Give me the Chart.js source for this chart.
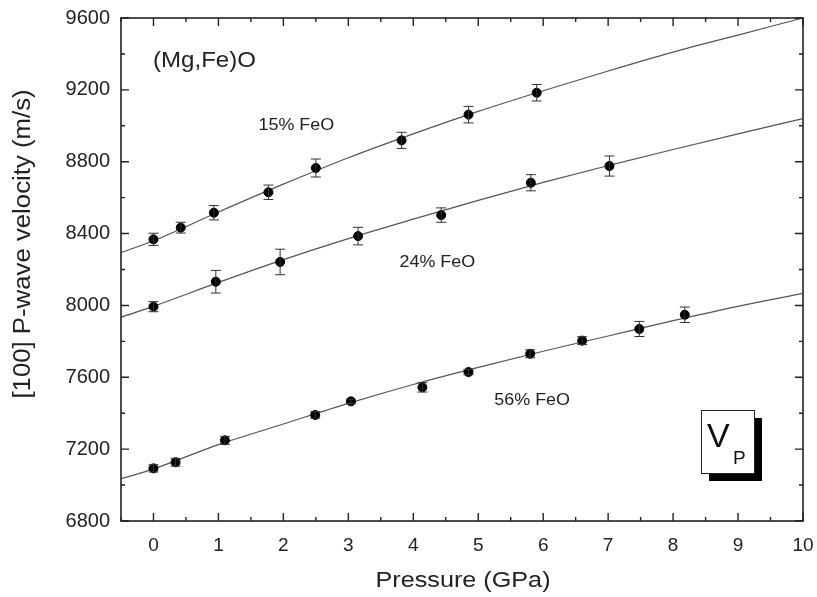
<!DOCTYPE html>
<html>
<head>
<meta charset="utf-8">
<script src="https://cdn.jsdelivr.net/npm/chart.js@4"></script>
<style>
  body { margin: 0; background: #fff; }
  canvas { display: block; }
</style>
</head>
<body>
<canvas id="vpChart" width="817" height="597"></canvas>
<script>
const p15 = [0, 0.42, 0.93, 1.77, 2.50, 3.82, 4.85, 5.90];
const vp15 = [8368, 8433, 8516, 8630, 8765, 8919, 9062, 9184];
const err15 = [34, 30, 40, 40, 50, 45, 46, 46];

const p24 = [0, 0.96, 1.95, 3.15, 4.43, 5.81, 7.02];
const vp24 = [7993, 8132, 8242, 8386, 8503, 8683, 8776];
const err24 = [28, 63, 71, 49, 40, 45, 56];

const p56 = [0, 0.34, 1.10, 2.49, 3.04, 4.14, 4.85, 5.80, 6.60, 7.48, 8.18];
const vp56 = [7093, 7127, 7249, 7390, 7466, 7544, 7629, 7731, 7804, 7869, 7948];
const err56 = [20, 22, 22, 18, 12, 26, 15, 22, 22, 42, 43];

// fitted curves, read at each GPa
const fitP = [-0.5, 0, 1, 2, 3, 4, 5, 6, 7, 8, 9, 10];
const fit15 = [8294, 8360, 8520, 8675, 8822, 8955, 9080, 9195, 9305, 9410, 9505, 9600];
const fit24 = [7934, 7995, 8128, 8255, 8372, 8480, 8585, 8685, 8778, 8868, 8955, 9040];
const fit56 = [7035, 7090, 7225, 7340, 7455, 7560, 7655, 7745, 7830, 7915, 7995, 8067];

const xTicks = [0, 1, 2, 3, 4, 5, 6, 7, 8, 9, 10];
const yTicks = [6800, 7200, 7600, 8000, 8400, 8800, 9200, 9600];

const toXY = (xs, ys) => xs.map((x, i) => ({x: x, y: ys[i]}));
const FONT = '"Liberation Sans", Arial, sans-serif';

function fitSet(ys) {
    return {type: 'line', data: toXY(fitP, ys), borderColor: '#555', borderWidth: 1.2,
            pointRadius: 0, cubicInterpolationMode: 'monotone', order: 2};
}
function pointSet(xs, ys, errs) {
    return {type: 'scatter', data: toXY(xs, ys), errs: errs, backgroundColor: '#000',
            borderColor: '#000', pointRadius: 4.5, order: 1};
}

// stretched text helper (the figure's lettering is a bit wide)
function wideText(ctx, txt, x, y, size, align) {
    ctx.save();
    ctx.font = size + 'px ' + FONT;
    ctx.textBaseline = 'middle';
    ctx.textAlign = align || 'center';
    ctx.translate(x, y);
    ctx.scale(1.12, 1);
    ctx.fillText(txt, 0, 0);
    ctx.restore();
}

const decor = {
    id: 'decor',
    afterDatasetsDraw(chart) {
        const ctx = chart.ctx, xs = chart.scales.x, ys = chart.scales.y;
        // error bars
        ctx.save();
        ctx.strokeStyle = '#333';
        ctx.lineWidth = 1;
        chart.data.datasets.forEach(ds => {
            if (!ds.errs) return;
            ds.data.forEach((pt, i) => {
                const px = xs.getPixelForValue(pt.x);
                const top = ys.getPixelForValue(pt.y + ds.errs[i]);
                const bot = ys.getPixelForValue(pt.y - ds.errs[i]);
                ctx.beginPath();
                ctx.moveTo(px, top); ctx.lineTo(px, bot);
                ctx.moveTo(px - 5, top); ctx.lineTo(px + 5, top);
                ctx.moveTo(px - 5, bot); ctx.lineTo(px + 5, bot);
                ctx.stroke();
            });
        });
        ctx.restore();
    },
    afterDraw(chart) {
        const ctx = chart.ctx, a = chart.chartArea;
        const xs = chart.scales.x, ys = chart.scales.y;
        ctx.save();
        ctx.strokeStyle = '#222';
        ctx.lineWidth = 1.6;
        ctx.strokeRect(a.left, a.top, a.right - a.left, a.bottom - a.top);
        ctx.lineWidth = 1.4;
        ctx.beginPath();
        // x ticks, major each GPa, minor each half
        for (let v = -0.5; v <= 10; v += 0.5) {
            const px = xs.getPixelForValue(v);
            const len = Number.isInteger(v) ? 8 : 4;
            ctx.moveTo(px, a.bottom); ctx.lineTo(px, a.bottom - len);
            ctx.moveTo(px, a.top); ctx.lineTo(px, a.top + len);
        }
        for (let v = 6800; v <= 9600; v += 200) {
            const py = ys.getPixelForValue(v);
            const len = v % 400 === 0 ? 8 : 4;
            ctx.moveTo(a.left, py); ctx.lineTo(a.left + len, py);
            ctx.moveTo(a.right, py); ctx.lineTo(a.right - len, py);
        }
        ctx.stroke();

        ctx.fillStyle = '#222';
        // axis titles
        wideText(ctx, 'Pressure (GPa)', (a.left + a.right) / 2 + 1, 581, 22.5);
        ctx.save();
        ctx.translate(24, 244);
        ctx.rotate(-Math.PI / 2);
        wideText(ctx, '[100] P-wave velocity (m/s)', 0, 0, 23);
        ctx.restore();

        // labels inside the plot
        wideText(ctx, '(Mg,Fe)O', a.left + 32, 61, 21.5, 'left');
        wideText(ctx, '15% FeO', xs.getPixelForValue(2.2), ys.getPixelForValue(9000), 16);
        wideText(ctx, '24% FeO', xs.getPixelForValue(4.37), ys.getPixelForValue(8236), 16);
        wideText(ctx, '56% FeO', xs.getPixelForValue(5.83), ys.getPixelForValue(7473), 16);

        // V_P badge with drop shadow
        const bx = 701, by = 410, bw = 53, bh = 63;
        ctx.fillStyle = '#000';
        ctx.fillRect(bx + 8, by + 8, bw, bh);
        ctx.fillStyle = '#fff';
        ctx.fillRect(bx, by, bw, bh);
        ctx.strokeStyle = '#222';
        ctx.lineWidth = 1;
        ctx.strokeRect(bx + 0.5, by + 0.5, bw, bh);
        ctx.fillStyle = '#111';
        ctx.font = '34px ' + FONT;
        ctx.textAlign = 'left';
        ctx.textBaseline = 'alphabetic';
        ctx.fillText('V', bx + 6, by + 37);
        ctx.font = '19px ' + FONT;
        ctx.fillText('P', bx + 32, by + 54);
        ctx.restore();
    }
};

new Chart(document.getElementById('vpChart'), {
    data: {
        datasets: [
            fitSet(fit15), fitSet(fit24), fitSet(fit56),
            pointSet(p15, vp15, err15), pointSet(p24, vp24, err24), pointSet(p56, vp56, err56)
        ]
    },
    options: {
        responsive: false,
        animation: false,
        layout: {padding: {top: 18, right: 14, left: 0, bottom: 0}},
        plugins: {legend: {display: false}, tooltip: {enabled: false}},
        scales: {
            x: {
                type: 'linear', min: -0.5, max: 10,
                grid: {display: false, drawTicks: false},
                border: {display: false},
                afterBuildTicks: s => { s.ticks = xTicks.map(v => ({value: v})); },
                afterFit: s => { s.height = 76; s.paddingLeft = 0; s.paddingRight = 0; },
                ticks: {padding: 13, color: '#222', font: {family: FONT, size: 19}, maxRotation: 0,
                        callback: v => String(v)}
            },
            y: {
                type: 'linear', min: 6800, max: 9600,
                grid: {display: false, drawTicks: false},
                border: {display: false},
                afterBuildTicks: s => { s.ticks = yTicks.map(v => ({value: v})); },
                afterFit: s => { s.width = 121; s.paddingTop = 0; s.paddingBottom = 0; },
                ticks: {padding: 11, color: '#222', font: {family: FONT, size: 20},
                        callback: v => String(v)}
            }
        }
    },
    plugins: [decor]
});
</script>
</body>
</html>
